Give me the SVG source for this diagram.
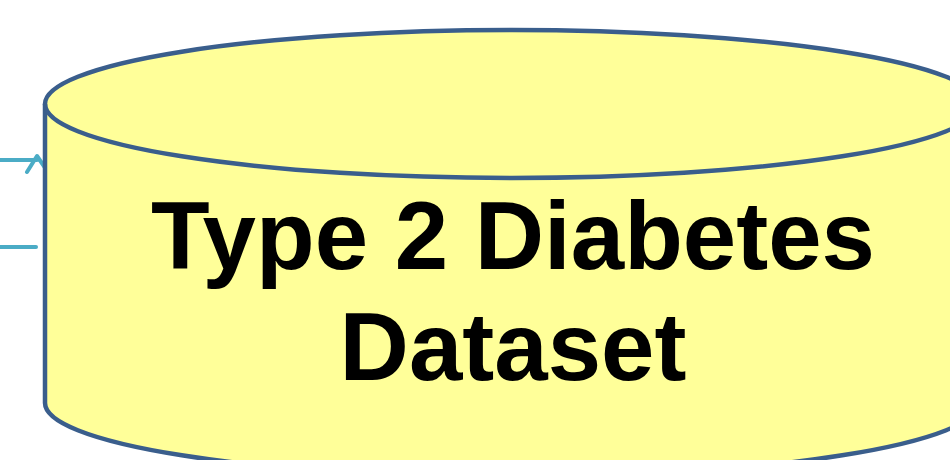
<svg xmlns="http://www.w3.org/2000/svg" width="950" height="460" viewBox="0 0 950 460">
<style>
.cyl{fill:#FFFF99;stroke:#3A5E8C;stroke-width:4.5;stroke-linejoin:round}
.edge{fill:none;stroke:#4BACC6;stroke-width:4;stroke-linecap:round;stroke-linejoin:round}
.lbl{font-family:"Liberation Sans",Arial,sans-serif;font-weight:bold;font-size:96px;fill:#000;text-anchor:middle}
</style>
<rect width="950" height="460" fill="#FFFFFF"/>
<g id="connectors">
<path class="edge" d="M-2,160 H37 M27,172 L37,156 L48,172"/>
<path class="edge" d="M-2,247 H36"/>
</g>
<g id="dataset">
<path class="cyl" d="M45,104 V403 A467,74 0 0 0 979,403 V104 A467,74 0 0 0 45,104 Z"/>
<path class="cyl" fill="none" style="fill:none" d="M45,104 A467,74 0 0 0 979,104"/>
<text class="lbl" x="513" y="269">Type 2 Diabetes</text>
<text class="lbl" x="513" y="380">Dataset</text>
</g>
</svg>
